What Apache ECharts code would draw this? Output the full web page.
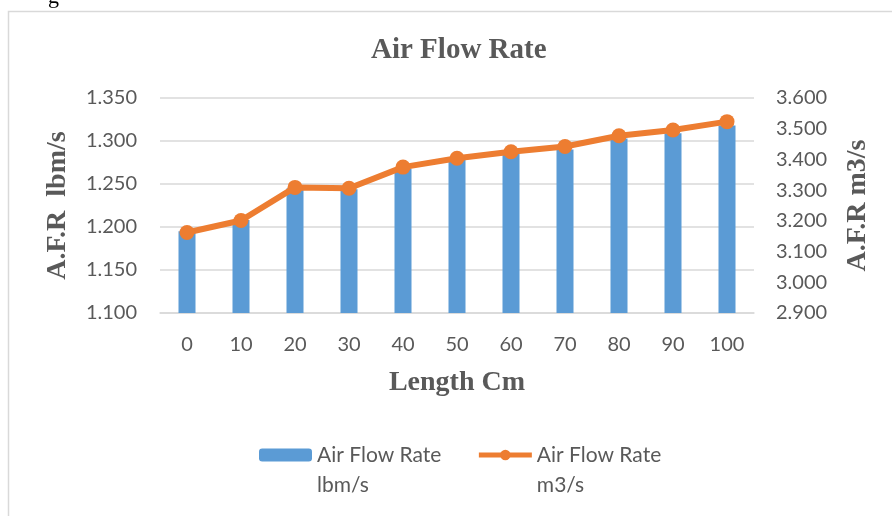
<!DOCTYPE html>
<html>
<head>
<meta charset="utf-8">
<script src="https://cdn.jsdelivr.net/npm/echarts@6/dist/echarts.min.js"></script>
<style>
html,body{margin:0;padding:0;background:#fff;}
#c{width:892px;height:516px;}
</style>
</head>
<body>
<div id="c"></div>
<script>
const categories = ['0','10','20','30','40','50','60','70','80','90','100'];
const flowLbm = [1.195, 1.208, 1.245, 1.244, 1.268, 1.279, 1.286, 1.290, 1.303, 1.309, 1.318];
const flowM3 = [3.162, 3.201, 3.309, 3.306, 3.375, 3.404, 3.425, 3.442, 3.477, 3.496, 3.523];
const seriesNames = ['Air Flow Rate lbm/s', 'Air Flow Rate m3/s'];

const chart = echarts.init(document.getElementById('c'), null, {renderer: 'canvas'});
const txt = '#595959';
const serif = '"Liberation Serif", "Times New Roman", serif';
const sans = 'Lato, "Open Sans", sans-serif';
chart.setOption({
  backgroundColor: '#fff',
  animation: false,
  graphic: [
    {type: 'rect', shape: {x: 8.5, y: 11.5, width: 900, height: 520}, style: {fill: 'none', stroke: '#d9d9d9', lineWidth: 1.5}, z: -1},
    {type: 'text', left: 48, top: -14, style: {text: 'g', font: '22px "Liberation Serif"', fill: '#000'}}
  ],
  title: {
    text: 'Air Flow Rate', left: 366, top: 31,
    textStyle: {fontFamily: serif, fontWeight: 'bold', fontSize: 29, color: txt}
  },
  grid: {left: 160, right: 138, top: 98, bottom: 203, containLabel: false},
  legend: {
    left: 259, top: 410, padding: 0, itemWidth: 53, itemHeight: 13, itemGap: 35,
    data: seriesNames,
    lineStyle: {width: 5},
    formatter: function (n) { return ' \n' + n.replace(' lbm/s', '\nlbm/s').replace(' m3/s', '\nm3/s'); },
    textStyle: {fontFamily: sans, fontSize: 21, color: txt, lineHeight: 30}
  },
  xAxis: {
    type: 'category', data: categories,
    name: 'Length Cm', nameLocation: 'middle', nameGap: 56,
    nameTextStyle: {fontFamily: serif, fontWeight: 'bold', fontSize: 28, color: txt},
    axisLine: {lineStyle: {color: '#d9d9d9', width: 1.5}},
    axisTick: {show: false},
    axisLabel: {fontFamily: sans, fontSize: 20, color: txt, margin: 22}
  },
  yAxis: [
    {
      type: 'value', min: 1.1, max: 1.35, interval: 0.05,
      name: 'A.F.R  lbm/s', nameLocation: 'middle', nameGap: 88, nameRotate: 90,
      nameTextStyle: {fontFamily: serif, fontWeight: 'bold', fontSize: 28, color: txt},
      axisLine: {show: false}, axisTick: {show: false},
      axisLabel: {fontFamily: sans, fontSize: 20, color: txt, margin: 23, formatter: v => v.toFixed(3)},
      splitLine: {lineStyle: {color: '#d9d9d9', width: 1.5}}
    },
    {
      type: 'value', min: 2.9, max: 3.6, interval: 0.1, position: 'right',
      name: 'A.F.R m3/s', nameLocation: 'middle', nameGap: 90, nameRotate: 90,
      nameTextStyle: {fontFamily: serif, fontWeight: 'bold', fontSize: 28, color: txt},
      axisLine: {show: false}, axisTick: {show: false},
      axisLabel: {fontFamily: sans, fontSize: 20, color: txt, margin: 22, formatter: v => v.toFixed(3)},
      splitLine: {show: false}
    }
  ],
  series: [
    {
      name: seriesNames[0], type: 'bar', yAxisIndex: 0, data: flowLbm,
      barWidth: 17, itemStyle: {color: '#5b9bd5'}
    },
    {
      name: seriesNames[1], type: 'line', yAxisIndex: 1, data: flowM3,
      symbol: 'circle', symbolSize: 15,
      lineStyle: {color: '#ed7d31', width: 6},
      itemStyle: {color: '#ed7d31'}
    }
  ]
});
</script>
</body>
</html>
